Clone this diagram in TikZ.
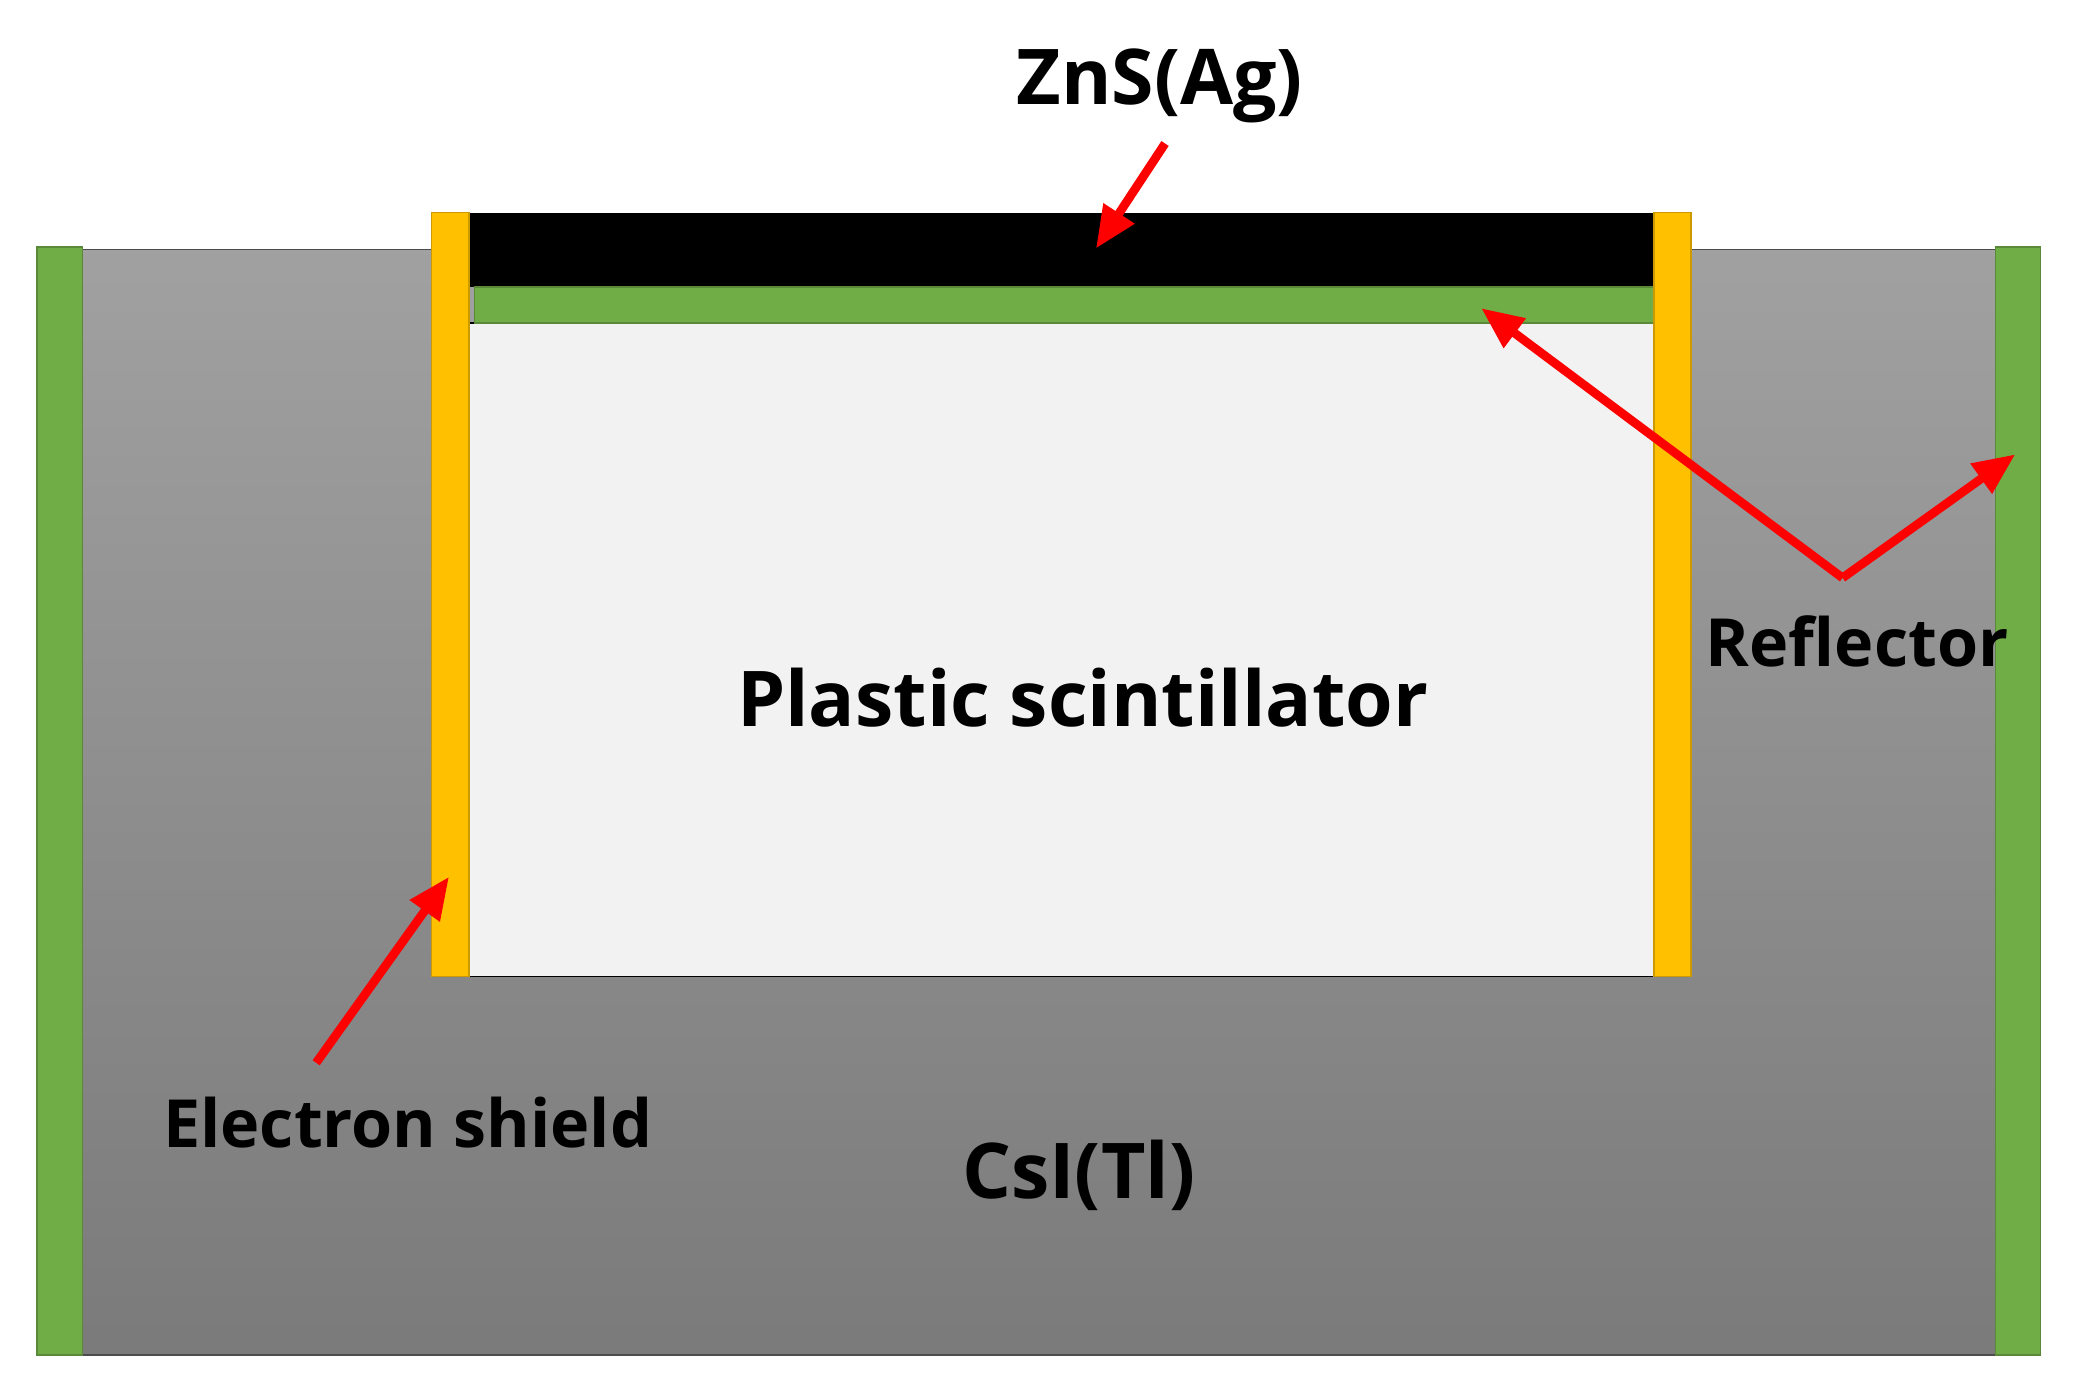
\documentclass[tikz,border=0pt]{standalone}
\usepackage{fontspec}
\setmainfont{Open Sans}
\usetikzlibrary{arrows.meta,positioning}
\definecolor{barGreen}{RGB}{112,173,71}
\definecolor{shieldYellow}{RGB}{255,192,0}
\definecolor{plasticGray}{RGB}{242,242,242}
\tikzset{
  lbl/.style={font=\bfseries\fontsize{22}{26}\selectfont, inner sep=0pt},
  small lbl/.style={lbl, font=\bfseries\fontsize{19}{23}\selectfont},
  redarrow/.style={-{Triangle[length=12pt,width=10pt]}, red, line width=2.5pt}
}
\begin{document}
\begin{tikzpicture}[x=0.01335cm, y=-0.01335cm]
\useasboundingbox (0,0) rectangle (1568,1043);

% ===== CsI(Tl) block =====
\shade[top color=black!37, bottom color=black!52] (62,188) rectangle (1502,1020);
\draw[black!70] (62,188) rectangle (1502,1020);

% ===== Reflector side bars =====
\fill[barGreen, draw=barGreen!80!black] (28,186) rectangle (62,1020);
\fill[barGreen, draw=barGreen!80!black] (1502,186) rectangle (1536,1020);

% ===== Plastic scintillator =====
\fill[plasticGray, draw=black] (353,243) rectangle (1245,735);
\fill[black] (353,160) rectangle (1245,216);
\fill[barGreen, draw=barGreen!80!black] (357,216) rectangle (1245,243);

% ===== Electron shield =====
\fill[shieldYellow, draw=shieldYellow!80!black] (325,160) rectangle (353,735);
\fill[shieldYellow, draw=shieldYellow!80!black] (1245,160) rectangle (1273,735);

% ===== Labels =====
\node[lbl] (zns) at (873,65) {ZnS(Ag)};
\node[lbl] (plastic) at (815,525) {Plastic scintillator};
\node[small lbl] (refl) at (1398,483) {Reflector};
\node[small lbl] (eshield) at (307,845) {Electron shield};
\node[lbl] (csi) at (812,885) {CsI(Tl)};

% ===== Arrows =====
\coordinate (znsTop) at (877,108);
\coordinate (znsTip) at (825,187);
\coordinate (esTail) at (238,800);
\coordinate (esTip) at (338,660);
\coordinate (rfJoin) at (1387,435);
\coordinate (rfTipL) at (1115,232);
\coordinate (rfTipR) at (1517,342);
\draw[redarrow] (znsTop) -- (znsTip);
\draw[redarrow] (esTail) -- (esTip);
\draw[redarrow] (rfJoin) -- (rfTipL);
\draw[redarrow] (rfJoin) -- (rfTipR);
\end{tikzpicture}
\end{document}
